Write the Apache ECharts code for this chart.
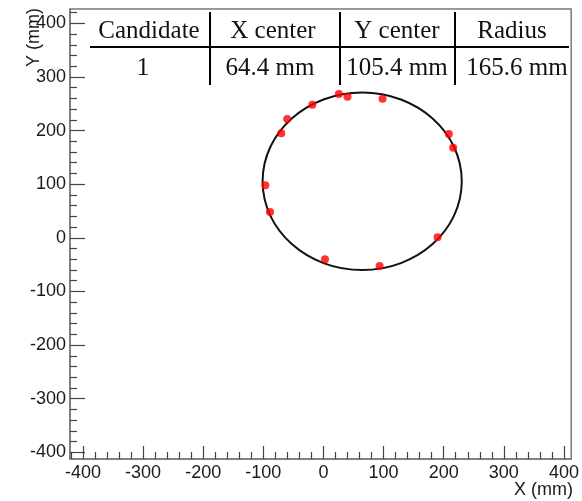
<!DOCTYPE html>
<html>
<head>
<meta charset="utf-8">
<script src="https://cdn.jsdelivr.net/npm/echarts@6/dist/echarts.min.js"></script>
<style>
html,body{margin:0;padding:0;background:#fff;}
#main{width:582px;height:501px;}
</style>
</head>
<body>
<div id="main"></div>
<script>
// ---- data ----
var hitX = [25.6, 40.0, 98.3, -18.5, -60.3, -70.2, 208.6, 215.7, -96.7, -88.9, 189.8, 2.5, 93.4];
var hitY = [268.3, 263.2, 259.5, 248.3, 221.6, 195.0, 193.7, 168.1, 97.9, 48.1, 0.9, -40.1, -52.6];
var fitCenterX = 64.4;
var fitCenterY = 105.4;
var fitRadius = 165.6;
var xTicks = [-400, -300, -200, -100, 0, 100, 200, 300, 400];
var yTicks = [-400, -300, -200, -100, 0, 100, 200, 300, 400];
var tableHeader = ['Candidate', 'X center', 'Y center', 'Radius'];
var tableRow = ['1', '64.4 mm', '105.4 mm', '165.6 mm'];
var xTitle = 'X (mm)';
var yTitle = 'Y (mm)';

// ---- layout ----
var X_MIN = -421.5, X_MAX = 412, Y_MIN = -412.5, Y_MAX = 426.7;
function minors(major, step) {
  var out = [];
  for (var v = major[0] - 100; v <= major[major.length - 1] + 100; v += step) {
    if (major.indexOf(v) < 0) out.push(v);
  }
  return out;
}
var xMinor = minors(xTicks, 20);
var yMinor = minors(yTicks, 20);

var points = hitX.map(function (x, i) { return [x, hitY[i]]; });

var labelFont = { fontFamily: 'Liberation Sans', fontSize: 18, color: '#1a1a1a' };
var axisLineStyle = { color: '#7a7a7a', width: 1.5 };

var headerPos = [149, 273, 397, 512];
var rowPos = [143, 270, 397, 517];
var graphics = [];
// table lines
graphics.push({ type: 'line', shape: { x1: 90, y1: 47, x2: 569, y2: 47 }, style: { stroke: '#000', lineWidth: 2 }, z: 100 });
[210, 340, 455].forEach(function (x) {
  graphics.push({ type: 'line', shape: { x1: x, y1: 12, x2: x, y2: 85 }, style: { stroke: '#000', lineWidth: 2 }, z: 100 });
});
tableHeader.forEach(function (t, i) {
  graphics.push({ type: 'text', x: headerPos[i], y: 31, z: 100,
    style: { text: t, fontFamily: 'Liberation Serif', fontSize: 25, fill: '#111', align: 'center', verticalAlign: 'middle' } });
});
tableRow.forEach(function (t, i) {
  graphics.push({ type: 'text', x: rowPos[i], y: 68, z: 100,
    style: { text: t, fontFamily: 'Liberation Serif', fontSize: 25, fill: '#111', align: 'center', verticalAlign: 'middle' } });
});
graphics.push({ type: 'text', x: 573, y: 490, z: 100,
  style: { text: xTitle, fontFamily: 'Liberation Sans', fontSize: 18, fill: '#1a1a1a', align: 'right', verticalAlign: 'middle' } });
graphics.push({ type: 'text', x: 34, y: 8, rotation: Math.PI / 2, z: 100,
  style: { text: yTitle, fontFamily: 'Liberation Sans', fontSize: 18, fill: '#1a1a1a', align: 'right', verticalAlign: 'middle' } });

var chart = echarts.init(document.getElementById('main'), null, { renderer: 'canvas' });
chart.setOption({
  animation: false,
  backgroundColor: '#fff',
  grid: { left: 70, right: 9, top: 9, bottom: 42, show: true, borderColor: '#7a7a7a', borderWidth: 1.5, backgroundColor: 'transparent' },
  xAxis: [
    { type: 'value', min: X_MIN, max: X_MAX, position: 'bottom',
      axisLine: { show: true, onZero: false, lineStyle: axisLineStyle },
      axisTick: { show: true, inside: true, length: 13, customValues: xTicks, lineStyle: { color: '#444', width: 1.2 } },
      axisLabel: { show: true, customValues: xTicks, margin: 5, fontFamily: labelFont.fontFamily, fontSize: labelFont.fontSize, color: labelFont.color },
      splitLine: { show: false } },
    { type: 'value', min: X_MIN, max: X_MAX, position: 'bottom',
      axisLine: { show: false, onZero: false },
      axisTick: { show: true, inside: true, length: 7, customValues: xMinor, lineStyle: { color: '#444', width: 1.2 } },
      axisLabel: { show: false },
      splitLine: { show: false } }
  ],
  yAxis: [
    { type: 'value', min: Y_MIN, max: Y_MAX, position: 'left',
      axisLine: { show: true, onZero: false, lineStyle: axisLineStyle },
      axisTick: { show: true, inside: true, length: 15, customValues: yTicks, lineStyle: { color: '#444', width: 1.2 } },
      axisLabel: { show: true, customValues: yTicks, margin: 4, fontFamily: labelFont.fontFamily, fontSize: labelFont.fontSize, color: labelFont.color },
      splitLine: { show: false } },
    { type: 'value', min: Y_MIN, max: Y_MAX, position: 'left',
      axisLine: { show: false, onZero: false },
      axisTick: { show: true, inside: true, length: 7, customValues: yMinor, lineStyle: { color: '#444', width: 1.2 } },
      axisLabel: { show: false },
      splitLine: { show: false } }
  ],
  series: [
    { type: 'custom', xAxisIndex: 0, yAxisIndex: 0, z: 3,
      data: [[fitCenterX, fitCenterY, fitRadius]],
      renderItem: function (params, api) {
        var c = api.coord([api.value(0), api.value(1)]);
        var s = api.size([api.value(2), api.value(2)]);
        return { type: 'ellipse', shape: { cx: c[0], cy: c[1], rx: s[0], ry: s[1] },
          style: { fill: 'none', stroke: '#111', lineWidth: 2 } };
      } },
    { type: 'scatter', xAxisIndex: 0, yAxisIndex: 0, z: 4,
      data: points, symbol: 'circle', symbolSize: 8,
      itemStyle: { color: '#ff0000' } }
  ],
  graphic: graphics
});
</script>
</body>
</html>
